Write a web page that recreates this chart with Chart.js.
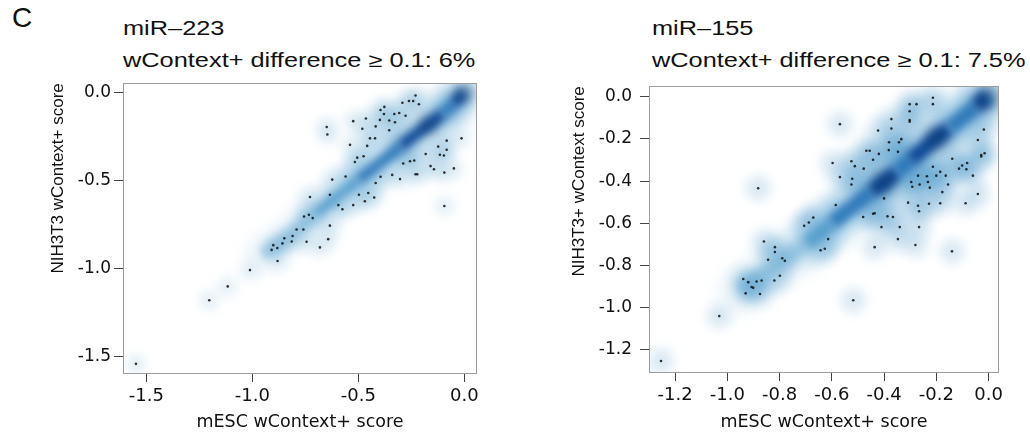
<!DOCTYPE html>
<html lang="en">
<head>
<meta charset="UTF-8">
<title>mESC vs NIH3T3 wContext+ scores</title>
<style>
  body { margin: 0; width: 1030px; height: 437px; position: relative; background: #fff; overflow: hidden;
         font-family: "Liberation Sans", Arial, sans-serif; color: #111; }
  .lbl { position: absolute; white-space: nowrap; transform-origin: 0 0; line-height: 1.15; }
  .ttl { font-size: 19.5px; transform: scaleX(1.3); }
  canvas { position: absolute; }
</style>
</head>
<body>
<div class="lbl" style="left:12px; top:2px; font-size:28px;">C</div>
<div class="lbl ttl" style="left:123px; top:17px;">miR–223</div>
<div class="lbl ttl" style="left:123px; top:49px;">wContext+ difference ≥ 0.1: 6%</div>
<div class="lbl ttl" style="left:652px; top:17px;">miR–155</div>
<div class="lbl ttl" style="left:652px; top:49px;">wContext+ difference ≥ 0.1: 7.5%</div>

<canvas id="c223" width="450" height="367" style="left:40px; top:70px;"></canvas>
<canvas id="c155" width="470" height="369" style="left:560px; top:68px;"></canvas>

<script src="https://cdn.jsdelivr.net/npm/chart.js"></script>
<script>
// scattered genes, [mESC score, NIH3T3 score]
const mir223Points = [[-0.649,-0.194],[-0.646,-0.237],[-0.524,-0.161],[-0.464,-0.146],[-0.481,-0.204],[-0.418,-0.191],
  [-0.421,-0.259],[-0.445,-0.259],[-0.398,-0.154],[-0.395,-0.098],[-0.377,-0.080],[-0.379,-0.120],[-0.354,-0.157],
  [-0.354,-0.213],[-0.327,-0.167],[-0.307,-0.115],[-0.330,-0.120],[-0.277,-0.130],[-0.292,-0.056],[-0.261,-0.046],
  [-0.241,-0.046],[-0.230,-0.015],[-0.214,-0.065],[-0.539,-0.296],[-0.505,-0.369],[-0.475,-0.361],[-0.516,-0.394],
  [-0.458,-0.302],[-0.560,-0.476],[-0.623,-0.494],[-0.634,-0.580],[-0.728,-0.593],[-0.715,-0.713],[-0.733,-0.694],
  [-0.756,-0.704],[-0.634,-0.756],[-0.642,-0.833],[-0.681,-0.880],[-0.744,-0.848],[-0.791,-0.778],[-0.759,-0.778],
  [-0.810,-0.815],[-0.814,-0.846],[-0.849,-0.828],[-0.858,-0.857],[-0.901,-0.867],[-0.909,-0.894],[-0.882,-0.883],
  [-0.881,-0.957],[-1.011,-1.009],[-1.116,-1.102],[-1.203,-1.181],[-1.549,-1.543],[-0.594,-0.639],[-0.575,-0.663],
  [-0.524,-0.639],[-0.497,-0.580],[-0.469,-0.617],[-0.453,-0.570],[-0.425,-0.596],[-0.418,-0.513],[-0.395,-0.478],
  [-0.340,-0.467],[-0.303,-0.491],[-0.288,-0.402],[-0.256,-0.389],[-0.236,-0.385],[-0.230,-0.463],[-0.222,-0.463],
  [-0.182,-0.348],[-0.159,-0.417],[-0.143,-0.435],[-0.123,-0.306],[-0.115,-0.352],[-0.096,-0.357],[-0.083,-0.272],
  [-0.083,-0.324],[-0.094,-0.454],[-0.049,-0.430],[-0.013,-0.259],[-0.094,-0.644]];
// dense diagonal band, [x, y, density level 1-4]
const mir223Ridge = [[-0.95,-0.92,1],[-0.90,-0.88,1],[-0.85,-0.84,1],[-0.80,-0.79,1],[-0.75,-0.74,1],[-0.70,-0.685,1],
  [-0.65,-0.64,2],[-0.60,-0.59,2],[-0.55,-0.545,2],[-0.50,-0.495,2],[-0.45,-0.45,3],[-0.40,-0.40,3],[-0.35,-0.355,3],
  [-0.30,-0.305,3],[-0.25,-0.255,4],[-0.20,-0.21,4],[-0.15,-0.165,4],[-0.10,-0.115,3],[-0.05,-0.065,3],[-0.02,-0.02,4],[0.0,0.0,4]];
// darkest spots of the density
const mir223Peaks = [[0.0, -0.002], [-0.17, -0.18]];

const mir155Points = [[-0.569,-0.130],[-0.213,-0.005],[-0.213,-0.035],[-0.302,-0.035],[-0.276,-0.035],[-0.302,-0.069],
  [-0.302,-0.110],[-0.302,-0.118],[-0.372,-0.106],[-0.372,-0.151],[-0.423,-0.160],[-0.381,-0.216],[-0.343,-0.216],
  [-0.334,-0.201],[-0.347,-0.261],[-0.382,-0.253],[-0.420,-0.271],[-0.468,-0.256],[-0.455,-0.256],[-0.442,-0.299],
  [-0.525,-0.306],[-0.512,-0.329],[-0.478,-0.341],[-0.597,-0.314],[-0.569,-0.381],[-0.522,-0.389],[-0.525,-0.416],
  [-0.585,-0.513],[-0.882,-0.434],[-0.018,-0.155],[-0.041,-0.205],[-0.028,-0.276],[-0.028,-0.283],[-0.015,-0.268],
  [-0.139,-0.294],[-0.113,-0.341],[-0.101,-0.326],[-0.085,-0.344],[-0.082,-0.314],[-0.060,-0.374],[-0.041,-0.461],
  [-0.088,-0.505],[-0.213,-0.332],[-0.200,-0.374],[-0.185,-0.356],[-0.164,-0.374],[-0.155,-0.416],[-0.236,-0.377],
  [-0.232,-0.404],[-0.270,-0.374],[-0.296,-0.404],[-0.292,-0.427],[-0.264,-0.416],[-0.225,-0.431],[-0.177,-0.452],
  [-0.185,-0.505],[-0.228,-0.507],[-0.270,-0.517],[-0.308,-0.502],[-0.266,-0.543],[-0.400,-0.482],[-0.442,-0.555],
  [-0.436,-0.552],[-0.480,-0.570],[-0.387,-0.567],[-0.366,-0.570],[-0.410,-0.618],[-0.340,-0.618],[-0.266,-0.618],
  [-0.347,-0.675],[-0.280,-0.703],[-0.436,-0.713],[-0.140,-0.733],[-0.518,-0.965],[-0.614,-0.675],[-0.627,-0.721],
  [-0.643,-0.728],[-0.671,-0.573],[-0.688,-0.596],[-0.706,-0.612],[-0.818,-0.713],[-0.818,-0.736],[-0.860,-0.686],
  [-0.844,-0.773],[-0.790,-0.766],[-0.780,-0.778],[-0.799,-0.849],[-0.820,-0.871],[-0.869,-0.871],[-0.888,-0.876],
  [-0.907,-0.902],[-0.901,-0.906],[-0.939,-0.864],[-0.920,-0.879],[-0.930,-0.932],[-0.875,-0.935],[-1.031,-1.040],
  [-1.254,-1.253]];
const mir155Ridge = [[-0.95,-0.92,1],[-0.90,-0.88,1],[-0.85,-0.83,1],[-0.80,-0.79,1],[-0.75,-0.745,1],[-0.70,-0.70,1],
  [-0.65,-0.65,2],[-0.60,-0.60,2],[-0.55,-0.55,3],[-0.50,-0.50,3],[-0.45,-0.45,3],[-0.40,-0.405,4],[-0.35,-0.355,3],
  [-0.30,-0.30,3],[-0.25,-0.25,4],[-0.20,-0.195,4],[-0.15,-0.15,3],[-0.10,-0.10,3],[-0.05,-0.05,3],[-0.02,-0.015,4],[0.0,0.0,4]];
const mir155Peaks = [[-0.005, -0.005], [-0.2, -0.195], [-0.4, -0.405]];

const mir223XTicks = [-1.5, -1.0, -0.5, 0.0];
const mir223YTicks = [-1.5, -1.0, -0.5, 0.0];
const mir155XTicks = [-1.2, -1.0, -0.8, -0.6, -0.4, -0.2, 0.0];
const mir155YTicks = [-1.2, -1.0, -0.8, -0.6, -0.4, -0.2, 0.0];

const coreColors = ['', 'rgba(107,174,214,0.5)', 'rgba(66,146,198,0.75)', 'rgba(33,113,181,0.88)', 'rgba(8,69,148,0.95)'];
const glowColors = ['', 'rgba(158,202,225,0.28)', 'rgba(107,174,214,0.32)', 'rgba(107,174,214,0.4)', 'rgba(66,146,198,0.45)'];

// blur some datasets so they look like a smoothed density
const blurPlugin = {
  id: 'blurSets',
  beforeDatasetDraw(chart, args) {
    const b = chart.data.datasets[args.index].blur;
    if (b) { chart.ctx.save(); chart.ctx.filter = 'blur(' + b + 'px)'; }
  },
  afterDatasetDraw(chart, args) {
    if (chart.data.datasets[args.index].blur) chart.ctx.restore();
  }
};
// frame round the plot area
const boxPlugin = {
  id: 'box',
  afterDatasetsDraw(chart) {
    const a = chart.chartArea, ctx = chart.ctx;
    ctx.save();
    ctx.strokeStyle = '#9c9c9c';
    ctx.lineWidth = 1;
    ctx.strokeRect(Math.round(a.left) + 0.5, Math.round(a.top) + 0.5, Math.round(a.right - a.left) - 1, Math.round(a.bottom - a.top));
    ctx.restore();
  }
};

function makeChart(id, pts, ridge, peaks, xTicks, yTicks, o) {
  const outl = pts.map(p => ({x: p[0], y: p[1]}));
  const band = ridge.map(p => ({x: p[0], y: p[1], level: p[2]}));
  const tops = peaks.map(p => ({x: p[0], y: p[1]}));
  const lvl = c => Math.round((band[c.p0DataIndex].level + band[c.p1DataIndex].level) / 2);
  return new Chart(document.getElementById(id), {
    type: 'scatter',
    data: {
      datasets: [
        {data: outl, order: 0, pointRadius: 1.3, pointBackgroundColor: 'rgba(15,15,15,0.85)', pointBorderWidth: 0, blur: 0.4},
        {data: tops, order: 1, blur: 6, pointRadius: o.peak, pointBorderWidth: 0,
         pointBackgroundColor: 'rgba(8,48,107,0.45)'},
        {data: band, order: 2, blur: 4.5, showLine: true, pointRadius: 0, borderCapStyle: 'butt',
         borderWidth: o.core, borderColor: coreColors[3],
         segment: {borderColor: c => coreColors[lvl(c)]}},
        {data: band, order: 3, blur: 9, showLine: true, pointRadius: 0, borderCapStyle: 'round',
         borderWidth: o.glow, borderColor: glowColors[2],
         segment: {borderColor: c => glowColors[lvl(c)]}},
        {data: outl, order: 4, blur: 6, pointRadius: o.halo, pointBorderWidth: 0,
         pointBackgroundColor: o.haloColor}
      ]
    },
    options: {
      responsive: false,
      animation: false,
      events: [],
      layout: {autoPadding: false, padding: {top: 5, right: o.padRight, left: 0, bottom: 0}},
      plugins: {legend: {display: false}, tooltip: {enabled: false}},
      scales: {
        x: {
          type: 'linear', min: o.xMin, max: o.xMax,
          afterBuildTicks: s => { s.ticks = xTicks.map(v => ({value: v})); },
          afterFit: s => { s.height = o.xH; },
          border: {display: false},
          grid: {drawOnChartArea: false, drawTicks: true, tickLength: 9, color: '#444'},
          ticks: {autoSkip: false, maxRotation: 0, padding: 4, color: '#111',
                  font: {family: 'DejaVu Sans', size: 18}, callback: v => v.toFixed(1)},
          title: {display: true, text: 'mESC wContext+ score', color: '#111',
                  font: {family: 'DejaVu Sans', size: 17.5}, padding: {top: 0, bottom: 4}}
        },
        y: {
          type: 'linear', min: o.yMin, max: o.yMax,
          afterBuildTicks: s => { s.ticks = yTicks.map(v => ({value: v})); },
          afterFit: s => { s.width = o.yW; },
          border: {display: false},
          grid: {drawOnChartArea: false, drawTicks: true, tickLength: 9, color: '#444'},
          ticks: {autoSkip: false, padding: o.yPad, color: '#111',
                  font: {family: 'DejaVu Sans', size: 17}, callback: v => v.toFixed(1)},
          title: {display: true, text: o.yTitle, color: '#111', align: 'end',
                  font: {family: 'Liberation Sans', size: 17}, padding: {top: o.yTitlePad, bottom: 0}}
        }
      }
    },
    plugins: [blurPlugin, boxPlugin]
  });
}

makeChart('c223', mir223Points, mir223Ridge, mir223Peaks, mir223XTicks, mir223YTicks, {
  xMin: -1.61, xMax: 0.06, yMin: -1.595, yMax: 0.055,
  padRight: 13, xH: 64, yW: 83, yPad: 3, yTitlePad: 8,
  core: 12, glow: 30, halo: 9, peak: 9, haloColor: 'rgba(66,146,198,0.17)',
  yTitle: 'NIH3T3 wContext+ score'
});
makeChart('c155', mir155Points, mir155Ridge, mir155Peaks, mir155XTicks, mir155YTicks, {
  xMin: -1.30, xMax: 0.04, yMin: -1.305, yMax: 0.05,
  padRight: 31, xH: 65, yW: 89, yPad: 8, yTitlePad: 9,
  core: 16, glow: 40, halo: 12, peak: 11, haloColor: 'rgba(66,146,198,0.21)',
  yTitle: 'NIH3T3+ wContext score'
});
</script>
</body>
</html>
